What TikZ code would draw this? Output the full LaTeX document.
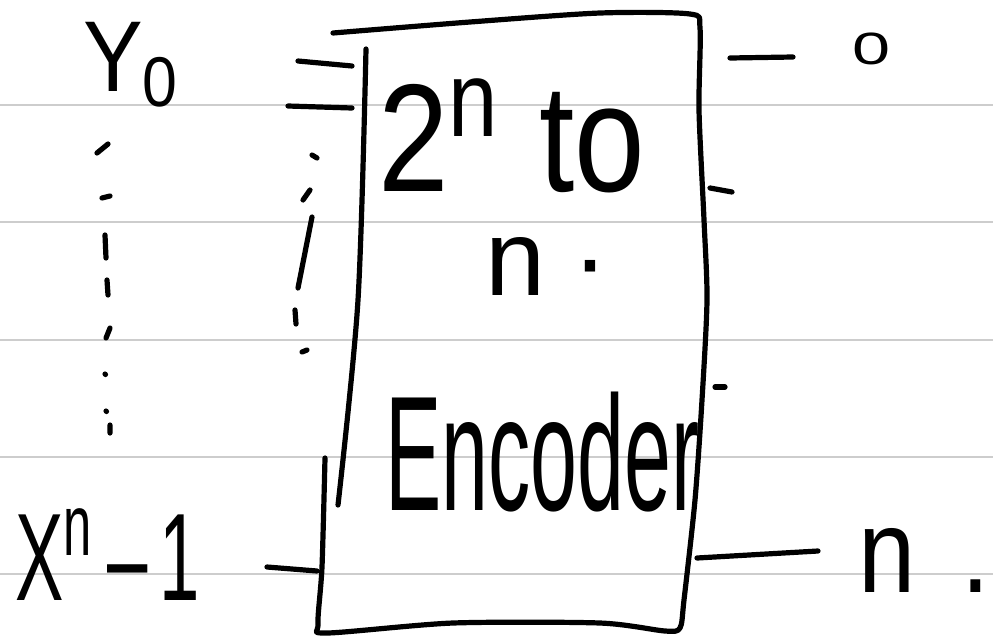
\documentclass[tikz,border=0pt]{standalone}
\usepackage{fontspec}
\setmainfont{Liberation Sans}
\usepackage{graphicx}
\usepackage{tikz}
\definecolor{rulegray}{RGB}{205,205,205}

% hand lettering squeezed into a given box
\newcommand{\hand}[3]{\resizebox*{#1}{#2}{#3}}

\tikzset{
  ink/.style={line width=5.2pt, line cap=round, line join=round},
  rule/.style={line width=2.6pt, rulegray},
  word/.style={inner sep=0pt, anchor=north west},
}

\begin{document}
\begin{tikzpicture}[x=1pt, y=-1pt]
    \useasboundingbox[fill=white] (0,0) rectangle (993,638);

    % Ruled paper
    \foreach \y in {105,222,340,457,574}
        \draw[rule] (0,\y) -- (993,\y);

    % Encoder box
    \draw[ink] plot[smooth, tension=0.45] coordinates {(325,458) (322,567) (318,624) (327,633)
        (453,623) (600,623) (665,631) (680,628) (684,600) (695,500) (702,400) (707,300)
        (704,220) (699,110) (700,28) (690,14) (600,13) (470,22) (333,33)};
    \draw[ink] plot[smooth] coordinates {(366,49) (358,300) (338,505)};

    % Labels
    \node[word] (yzero) at (83,22) {\hand{99pt}{85pt}{Y\textsubscript{0}}};
    \node[word] (xlast) at (15,508) {\hand{185pt}{92pt}{X\textsuperscript{n}\,--\,1}};
    \node[word] (title) at (378,78) {\hand{267pt}{115pt}{2\textsuperscript{n} to}};
    \node[word] (nline) at (485,237) {\hand{123pt}{58pt}{n\hspace{0.25em}\textperiodcentered}};
    \node[word] (enc) at (385,392) {\hand{314pt}{120pt}{Encoder}};
    \node[word] (outzero) at (852,33) {\hand{38pt}{32pt}{0}};
    \node[word] (outn) at (858,528) {\hand{132pt}{64pt}{n\hspace{0.45em}.}};

    % Inputs
    \draw[ink] (298,61) -- (352,66);
    \draw[ink] (288,106) -- (352,108);
    \draw[ink] (267,567) -- (317,571);
    \draw[ink] (97,153) -- (108,144)  (102,198) -- (110,196)  (105,235) -- (106,258)
        (107,280) -- (108,295)  (106,338) -- (110,328)  (105,374) -- (105.5,374.5)
        (106,411) -- (106.5,411.5)  (110,425) -- (110,433);
    \draw[ink] (312,155) -- (317,158)  (303,200) -- (310,190)  (312,217) -- (298,288)
        (295,310) -- (296,324)  (302,352) -- (307,350);

    % Outputs
    \draw[ink] (730,58) -- (793,57);
    \draw[ink] (710,188) -- (732,192);
    \draw[ink] (715,387) -- (725,387);
    \draw[ink] (697,558) -- (818,551);
\end{tikzpicture}
\end{document}
